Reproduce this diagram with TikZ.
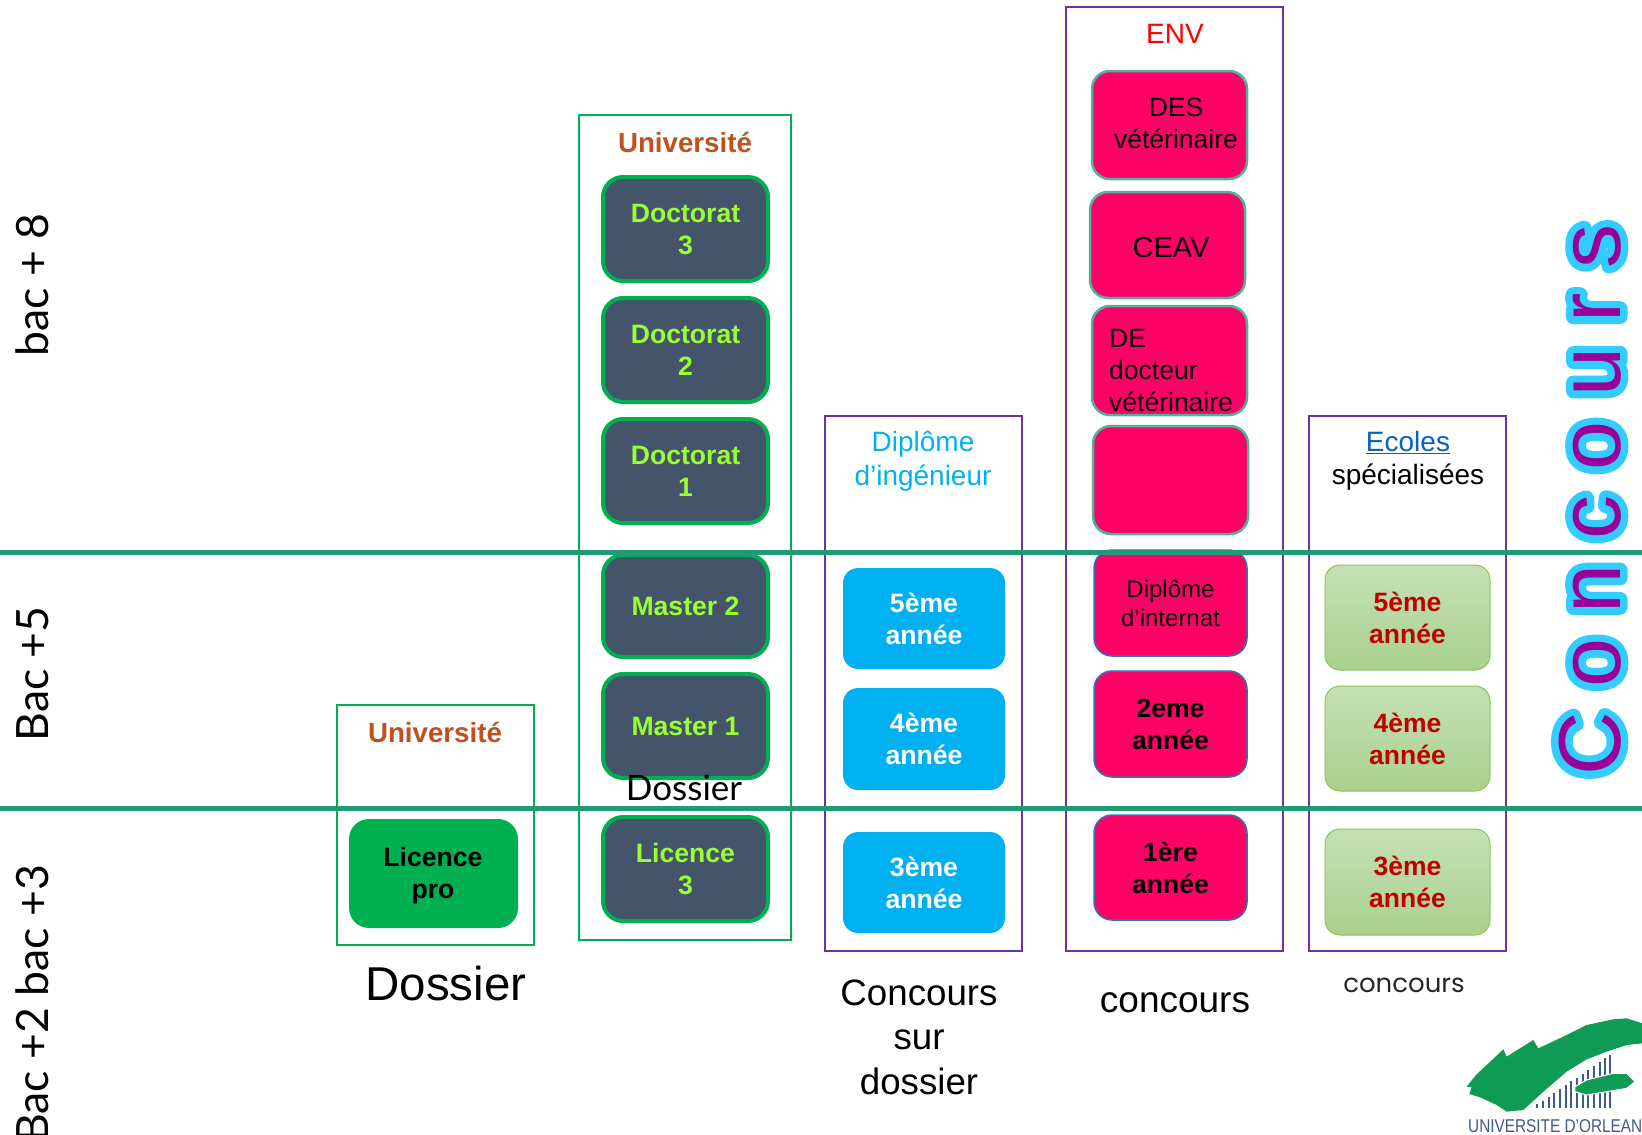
\documentclass[tikz,border=0pt]{standalone}
\usepackage{graphicx}
\usepackage{fontspec}
\setmainfont{Liberation Sans}
\newfontfamily\gillish{Lato}
\newfontfamily\wideish{Poppins}
\usetikzlibrary{calc}
\definecolor{uniGreen}{HTML}{00B050}
\definecolor{slateFill}{HTML}{44546A}
\definecolor{limeText}{HTML}{99FF33}
\definecolor{uniTitle}{HTML}{C0501E}
\definecolor{purpleBox}{HTML}{7030A0}
\definecolor{skyFill}{HTML}{00B0F0}
\definecolor{pinkFill}{HTML}{FF0066}
\definecolor{tealEdge}{HTML}{4FB39A}
\definecolor{blueEdge}{HTML}{2E75B6}
\definecolor{ruleGreen}{HTML}{1F9B78}
\definecolor{logoGreen}{HTML}{0F9A55}
\definecolor{logoBlue}{HTML}{3F5A8A}
\newcommand\fs[2]{\fontsize{#1}{#2}\selectfont}
\newcommand\pbox[7][]{%
  \pgfmathsetmacro\bw{#5-#3}\pgfmathsetmacro\bh{#6-#4}%
  \pgfmathsetmacro\cx{(#5+#3)/2}\pgfmathsetmacro\cy{(#6+#4)/2}%
  \node[minimum width=\bw pt,minimum height=\bh pt,inner sep=0pt,align=center,#1] (#2) at (\cx,\cy) {#7};}
\newcommand\haloword{C\kern25pt o\kern25pt n\kern25pt c\kern25pt o\kern25pt u\kern25pt r\kern25pt s}
\tikzset{
  frameG/.style={draw=uniGreen,line width=2.5pt},
  frameP/.style={draw=purpleBox,line width=2.5pt},
  slate/.style={draw=uniGreen,line width=4pt,fill=slateFill,rounded corners=20pt,text=limeText,font=\bfseries\fs{26.6}{32}},
  sky/.style={fill=skyFill,rounded corners=15pt,text=white,font=\bfseries\fs{26.6}{32}},
  pinkT/.style={draw=tealEdge,line width=2.5pt,fill=pinkFill,rounded corners=18pt,text=black,font=\fs{26.5}{32}},
  pinkB/.style={draw=blueEdge,line width=1.5pt,fill=pinkFill,rounded corners=18pt,text=black,font=\bfseries\fs{26.5}{32}},
  leaf/.style={draw={rgb,255:red,140;green,195;blue,85},line width=1pt,top color={rgb,255:red,197;green,224;blue,180},bottom color={rgb,255:red,169;green,209;blue,142},rounded corners=15pt,text={rgb,255:red,192;green,0;blue,0},font=\bfseries\fs{26.5}{32}},
  plain/.style={inner sep=0pt,align=center},
  side/.style={inner sep=0pt,rotate=90,font=\gillish\fs{44.5}{50},text=black},
  hrule/.style={ruleGreen,line width=5pt},
}
\begin{document}
\begin{tikzpicture}[x=1pt,y=-1pt]
\clip (0,0) rectangle (1642,1135);
\fill[white] (0,0) rectangle (1642,1135);

% frames
\pbox[frameG]{frUnivA}{337}{705}{534}{945}{}
\pbox[frameG]{frUnivB}{579}{115}{791}{940}{}
\pbox[frameP]{frIng}{825}{416}{1022}{951}{}
\pbox[frameP]{frEnv}{1066}{7}{1283}{951}{}
\pbox[frameP]{frEcoles}{1309}{416}{1506}{951}{}

% horizontal rules
\coordinate (ruleAw) at (0,552); \coordinate (ruleAe) at (1642,552);
\coordinate (ruleBw) at (0,808); \coordinate (ruleBe) at (1642,808);

% university column
\pbox[slate]{doc3}{603}{177}{768}{281}{Doctorat\\3}
\pbox[slate]{doc2}{603}{298}{768}{402}{Doctorat\\2}
\pbox[slate]{doc1}{603}{419}{768}{523}{Doctorat\\1}
\pbox[slate]{mas2}{603}{555}{768}{657}{Master 2}
\pbox[slate]{mas1}{603}{674}{768}{778}{Master 1}
\pbox[slate]{lic3}{603}{817}{768}{921}{Licence\\3}
\node[plain,font=\bfseries\fs{27.7}{32},text=uniTitle] (titleB) at (685,142) {Université};

% licence pro
\pbox[draw=none,fill=uniGreen,rounded corners=20pt]{licpro}{349}{819}{518}{928}{}
\node[plain,text=black,font=\bfseries\fs{26.6}{32}] (licprotxt) at (433,876) {Licence\\pro};
\node[plain,font=\bfseries\fs{27.7}{32},text=uniTitle] (titleA) at (435,732) {Université};
\node[plain,font=\fs{47.5}{50}] (dosA) at (446,984) {Dossier};
\node[plain,font=\gillish\fs{35}{38}] (dosB) at (684,788) {Dossier};

% engineers
\node[plain,font=\fs{28}{33.5},text=skyFill] (titleI) at (923,461) {Diplôme\\d’ingénieur};
\pbox[sky]{ing5}{843}{568}{1005}{669}{5ème\\année}
\pbox[sky]{ing4}{843}{688}{1005}{790}{4ème\\année}
\pbox[sky]{ing3}{843}{832}{1005}{933}{3ème\\année}
\node[plain,font=\fs{36.7}{44.5}] (consur) at (919,1037) {Concours\\sur\\dossier};

% ENV
\node[plain,font=\fs{28}{32},text=red] (titleE) at (1175,34) {ENV};
\pbox[pinkT]{des}{1092}{71}{1247}{179}{}
\node[plain,font=\fs{26.5}{32}] (destxt) at (1176,123) {DES\\vétérinaire};
\pbox[pinkT]{ceav}{1090}{192}{1245}{298}{}
\node[plain,font=\fs{29}{32}] (ceavtxt) at (1171,248) {CEAV};
\pbox[pinkT]{de}{1092}{306}{1247}{415}{}
\node[plain,align=left,anchor=north west,font=\fs{26.5}{32}] (detxt) at (1109,329) {DE\\docteur\\vétérinaire};
\pbox[pinkT]{blank}{1093}{426}{1248}{534}{}
\pbox[pinkB,font=\fs{24}{29}]{internat}{1094}{550}{1247}{656}{Diplôme\\d’internat}
\pbox[pinkB]{env2}{1094}{671}{1247}{777}{2eme\\année}
\pbox[pinkB]{env1}{1094}{815}{1247}{920}{1ère\\année}
\node[plain,font=\fs{37}{44}] (conEnv) at (1175,1003) {concours};

% schools
\node[plain,font=\fs{28}{33.5}] (titleS) at (1408,461) {\textcolor[HTML]{0563C1}{\underline{Ecoles}}\\spécialisées};
\pbox[leaf]{eco5}{1325}{565}{1490}{670}{5ème\\année}
\pbox[leaf]{eco4}{1325}{686}{1490}{791}{4ème\\année}
\pbox[leaf]{eco3}{1325}{829}{1490}{935}{3ème\\année}
\node[plain,font=\wideish\fs{26}{30},text=black!85] (conEco) at (1404,985) {concours};

\draw[hrule] (ruleAw) -- (ruleAe);
\draw[hrule] (ruleBw) -- (ruleBe);

% side labels
\node[side,anchor=base] (b8) at (48,285) {bac + 8};
\node[side,anchor=base] (b5) at (48,674) {Bac +5};
\node[side,anchor=base east] (b23) at (48,865) {Bac +2 bac +3};

% vertical word
\node[inner sep=0pt,rotate=90,anchor=base,font=\fs{88}{90},text={rgb,255:red,153;green,0;blue,153}] (vword) at (1620,500)
 {\special{pdf:code 1 Tr 15 w 1 j 1 J 0.2 0.8 1 RG}\rlap{\haloword}\special{pdf:code 0 Tr 1 w 0 0 0 RG}\haloword};

% logo
\begin{scope}[shift={(1400,960)},x=0.3333pt,y=-0.3333pt]
  \foreach \bx in {395,412,429,446,463,480,497,514,531,548,565,582,599,616,630}{
    \pgfmathsetmacro\bt{445-(\bx-395)*0.68}
    \draw[logoBlue,line width=2.3pt] (\bx,\bt) -- (\bx,445);
  }
  \fill[logoGreen] (200,380) -- (228,345) -- (310,268) -- (320,290) -- (400,240) -- (415,265) -- (500,225) -- (560,195) -- (640,178) -- (680,175) -- (727,190) -- (727,250) -- (680,255) -- (620,275) -- (560,298) -- (500,335) -- (430,395) -- (370,450) -- (320,455) -- (290,435) -- (240,412) -- (208,402) -- (215,382) -- cycle;
  \fill[logoGreen,draw=white,line width=1pt] (525,380) -- (560,360) -- (640,340) -- (680,340) -- (705,365) -- (680,385) -- (620,395) -- (560,405) -- (525,395) -- cycle;
\end{scope}
\node[plain,anchor=base west,font=\fs{18.5}{20},text=logoBlue] (logotxt) at (1468,1132) {\scalebox{0.83}[1]{UNIVERSITE D'ORLEAN}};
\end{tikzpicture}
\end{document}
